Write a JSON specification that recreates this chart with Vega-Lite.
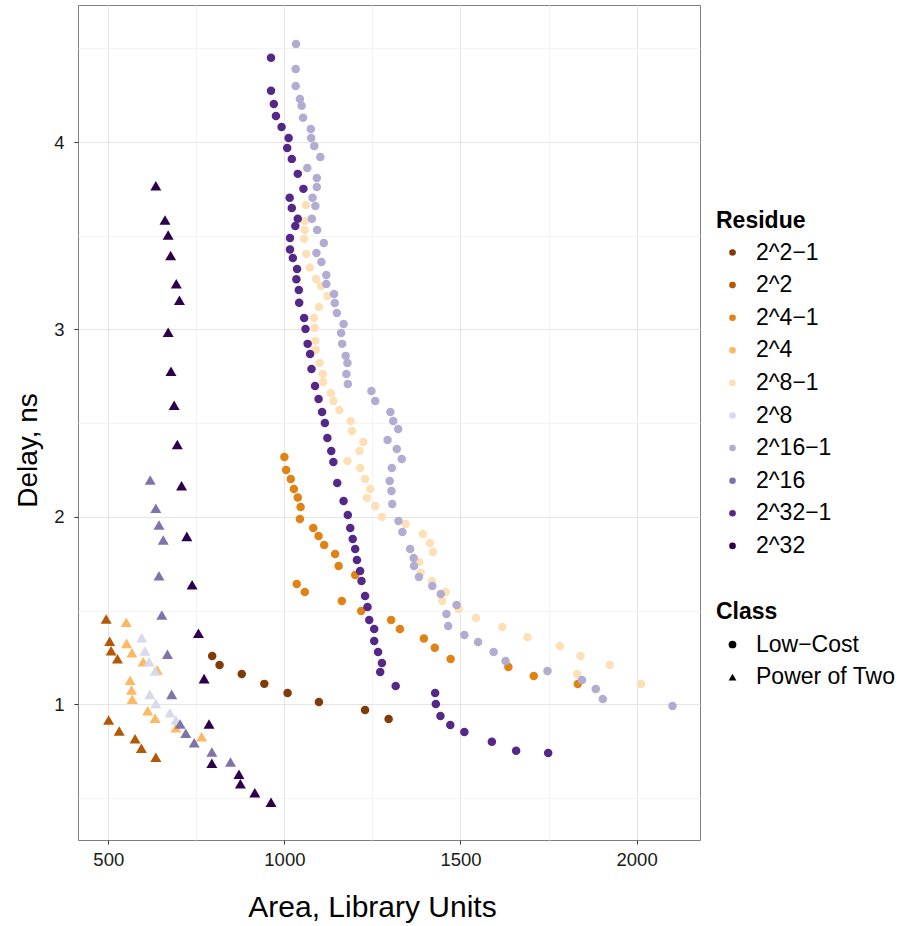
{
"$schema": "https://vega.github.io/schema/vega-lite/v6.json",
"width": 622, "height": 835,
"autosize": {"type": "none"},
"padding": {"left": 78, "top": 5, "right": 209, "bottom": 86},
"background": "white",
"datasets": {
"pts": [
{"Area":795,"Delay":1.258,"Residue":"2^2−1","Class":"Low−Cost"},
{"Area":816,"Delay":1.210,"Residue":"2^2−1","Class":"Low−Cost"},
{"Area":879,"Delay":1.162,"Residue":"2^2−1","Class":"Low−Cost"},
{"Area":943,"Delay":1.109,"Residue":"2^2−1","Class":"Low−Cost"},
{"Area":1009,"Delay":1.060,"Residue":"2^2−1","Class":"Low−Cost"},
{"Area":1098,"Delay":1.012,"Residue":"2^2−1","Class":"Low−Cost"},
{"Area":1229,"Delay":0.970,"Residue":"2^2−1","Class":"Low−Cost"},
{"Area":1296,"Delay":0.922,"Residue":"2^2−1","Class":"Low−Cost"},
{"Area":494,"Delay":1.455,"Residue":"2^2","Class":"Power of Two"},
{"Area":504,"Delay":1.336,"Residue":"2^2","Class":"Power of Two"},
{"Area":508,"Delay":1.286,"Residue":"2^2","Class":"Power of Two"},
{"Area":526,"Delay":1.243,"Residue":"2^2","Class":"Power of Two"},
{"Area":501,"Delay":0.916,"Residue":"2^2","Class":"Power of Two"},
{"Area":531,"Delay":0.858,"Residue":"2^2","Class":"Power of Two"},
{"Area":576,"Delay":0.816,"Residue":"2^2","Class":"Power of Two"},
{"Area":594,"Delay":0.765,"Residue":"2^2","Class":"Power of Two"},
{"Area":635,"Delay":0.717,"Residue":"2^2","Class":"Power of Two"},
{"Area":1000,"Delay":2.320,"Residue":"2^4−1","Class":"Low−Cost"},
{"Area":1005,"Delay":2.250,"Residue":"2^4−1","Class":"Low−Cost"},
{"Area":1018,"Delay":2.202,"Residue":"2^4−1","Class":"Low−Cost"},
{"Area":1027,"Delay":2.149,"Residue":"2^4−1","Class":"Low−Cost"},
{"Area":1038,"Delay":2.103,"Residue":"2^4−1","Class":"Low−Cost"},
{"Area":1046,"Delay":2.053,"Residue":"2^4−1","Class":"Low−Cost"},
{"Area":1044,"Delay":1.989,"Residue":"2^4−1","Class":"Low−Cost"},
{"Area":1082,"Delay":1.941,"Residue":"2^4−1","Class":"Low−Cost"},
{"Area":1097,"Delay":1.898,"Residue":"2^4−1","Class":"Low−Cost"},
{"Area":1113,"Delay":1.850,"Residue":"2^4−1","Class":"Low−Cost"},
{"Area":1144,"Delay":1.802,"Residue":"2^4−1","Class":"Low−Cost"},
{"Area":1154,"Delay":1.738,"Residue":"2^4−1","Class":"Low−Cost"},
{"Area":1201,"Delay":1.690,"Residue":"2^4−1","Class":"Low−Cost"},
{"Area":1035,"Delay":1.642,"Residue":"2^4−1","Class":"Low−Cost"},
{"Area":1058,"Delay":1.599,"Residue":"2^4−1","Class":"Low−Cost"},
{"Area":1163,"Delay":1.551,"Residue":"2^4−1","Class":"Low−Cost"},
{"Area":1218,"Delay":1.498,"Residue":"2^4−1","Class":"Low−Cost"},
{"Area":1303,"Delay":1.450,"Residue":"2^4−1","Class":"Low−Cost"},
{"Area":1328,"Delay":1.402,"Residue":"2^4−1","Class":"Low−Cost"},
{"Area":1396,"Delay":1.351,"Residue":"2^4−1","Class":"Low−Cost"},
{"Area":1427,"Delay":1.302,"Residue":"2^4−1","Class":"Low−Cost"},
{"Area":1472,"Delay":1.242,"Residue":"2^4−1","Class":"Low−Cost"},
{"Area":1636,"Delay":1.199,"Residue":"2^4−1","Class":"Low−Cost"},
{"Area":1708,"Delay":1.151,"Residue":"2^4−1","Class":"Low−Cost"},
{"Area":1833,"Delay":1.108,"Residue":"2^4−1","Class":"Low−Cost"},
{"Area":551,"Delay":1.438,"Residue":"2^4","Class":"Power of Two"},
{"Area":552,"Delay":1.325,"Residue":"2^4","Class":"Power of Two"},
{"Area":567,"Delay":1.275,"Residue":"2^4","Class":"Power of Two"},
{"Area":599,"Delay":1.227,"Residue":"2^4","Class":"Power of Two"},
{"Area":639,"Delay":1.183,"Residue":"2^4","Class":"Power of Two"},
{"Area":562,"Delay":1.128,"Residue":"2^4","Class":"Power of Two"},
{"Area":566,"Delay":1.076,"Residue":"2^4","Class":"Power of Two"},
{"Area":568,"Delay":1.027,"Residue":"2^4","Class":"Power of Two"},
{"Area":612,"Delay":0.966,"Residue":"2^4","Class":"Power of Two"},
{"Area":633,"Delay":0.925,"Residue":"2^4","Class":"Power of Two"},
{"Area":692,"Delay":0.875,"Residue":"2^4","Class":"Power of Two"},
{"Area":765,"Delay":0.827,"Residue":"2^4","Class":"Power of Two"},
{"Area":1061,"Delay":3.664,"Residue":"2^8−1","Class":"Low−Cost"},
{"Area":1058,"Delay":3.579,"Residue":"2^8−1","Class":"Low−Cost"},
{"Area":1058,"Delay":3.531,"Residue":"2^8−1","Class":"Low−Cost"},
{"Area":1056,"Delay":3.483,"Residue":"2^8−1","Class":"Low−Cost"},
{"Area":1062,"Delay":3.403,"Residue":"2^8−1","Class":"Low−Cost"},
{"Area":1072,"Delay":3.331,"Residue":"2^8−1","Class":"Low−Cost"},
{"Area":1090,"Delay":3.269,"Residue":"2^8−1","Class":"Low−Cost"},
{"Area":1104,"Delay":3.232,"Residue":"2^8−1","Class":"Low−Cost"},
{"Area":1122,"Delay":3.179,"Residue":"2^8−1","Class":"Low−Cost"},
{"Area":1098,"Delay":3.120,"Residue":"2^8−1","Class":"Low−Cost"},
{"Area":1084,"Delay":3.061,"Residue":"2^8−1","Class":"Low−Cost"},
{"Area":1086,"Delay":3.008,"Residue":"2^8−1","Class":"Low−Cost"},
{"Area":1088,"Delay":2.939,"Residue":"2^8−1","Class":"Low−Cost"},
{"Area":1089,"Delay":2.891,"Residue":"2^8−1","Class":"Low−Cost"},
{"Area":1100,"Delay":2.821,"Residue":"2^8−1","Class":"Low−Cost"},
{"Area":1109,"Delay":2.762,"Residue":"2^8−1","Class":"Low−Cost"},
{"Area":1110,"Delay":2.720,"Residue":"2^8−1","Class":"Low−Cost"},
{"Area":1132,"Delay":2.661,"Residue":"2^8−1","Class":"Low−Cost"},
{"Area":1139,"Delay":2.618,"Residue":"2^8−1","Class":"Low−Cost"},
{"Area":1156,"Delay":2.570,"Residue":"2^8−1","Class":"Low−Cost"},
{"Area":1188,"Delay":2.512,"Residue":"2^8−1","Class":"Low−Cost"},
{"Area":1192,"Delay":2.458,"Residue":"2^8−1","Class":"Low−Cost"},
{"Area":1224,"Delay":2.400,"Residue":"2^8−1","Class":"Low−Cost"},
{"Area":1213,"Delay":2.352,"Residue":"2^8−1","Class":"Low−Cost"},
{"Area":1179,"Delay":2.298,"Residue":"2^8−1","Class":"Low−Cost"},
{"Area":1215,"Delay":2.261,"Residue":"2^8−1","Class":"Low−Cost"},
{"Area":1229,"Delay":2.202,"Residue":"2^8−1","Class":"Low−Cost"},
{"Area":1244,"Delay":2.149,"Residue":"2^8−1","Class":"Low−Cost"},
{"Area":1234,"Delay":2.101,"Residue":"2^8−1","Class":"Low−Cost"},
{"Area":1258,"Delay":2.058,"Residue":"2^8−1","Class":"Low−Cost"},
{"Area":1277,"Delay":1.999,"Residue":"2^8−1","Class":"Low−Cost"},
{"Area":1344,"Delay":1.962,"Residue":"2^8−1","Class":"Low−Cost"},
{"Area":1393,"Delay":1.909,"Residue":"2^8−1","Class":"Low−Cost"},
{"Area":1413,"Delay":1.861,"Residue":"2^8−1","Class":"Low−Cost"},
{"Area":1422,"Delay":1.813,"Residue":"2^8−1","Class":"Low−Cost"},
{"Area":1383,"Delay":1.759,"Residue":"2^8−1","Class":"Low−Cost"},
{"Area":1387,"Delay":1.702,"Residue":"2^8−1","Class":"Low−Cost"},
{"Area":1419,"Delay":1.658,"Residue":"2^8−1","Class":"Low−Cost"},
{"Area":1458,"Delay":1.599,"Residue":"2^8−1","Class":"Low−Cost"},
{"Area":1448,"Delay":1.551,"Residue":"2^8−1","Class":"Low−Cost"},
{"Area":1495,"Delay":1.509,"Residue":"2^8−1","Class":"Low−Cost"},
{"Area":1544,"Delay":1.460,"Residue":"2^8−1","Class":"Low−Cost"},
{"Area":1619,"Delay":1.412,"Residue":"2^8−1","Class":"Low−Cost"},
{"Area":1690,"Delay":1.359,"Residue":"2^8−1","Class":"Low−Cost"},
{"Area":1782,"Delay":1.311,"Residue":"2^8−1","Class":"Low−Cost"},
{"Area":1841,"Delay":1.258,"Residue":"2^8−1","Class":"Low−Cost"},
{"Area":1924,"Delay":1.210,"Residue":"2^8−1","Class":"Low−Cost"},
{"Area":1831,"Delay":1.162,"Residue":"2^8−1","Class":"Low−Cost"},
{"Area":2013,"Delay":1.108,"Residue":"2^8−1","Class":"Low−Cost"},
{"Area":595,"Delay":1.355,"Residue":"2^8","Class":"Power of Two"},
{"Area":604,"Delay":1.284,"Residue":"2^8","Class":"Power of Two"},
{"Area":616,"Delay":1.227,"Residue":"2^8","Class":"Power of Two"},
{"Area":633,"Delay":1.178,"Residue":"2^8","Class":"Power of Two"},
{"Area":618,"Delay":1.053,"Residue":"2^8","Class":"Power of Two"},
{"Area":635,"Delay":1.005,"Residue":"2^8","Class":"Power of Two"},
{"Area":675,"Delay":0.955,"Residue":"2^8","Class":"Power of Two"},
{"Area":692,"Delay":0.916,"Residue":"2^8","Class":"Power of Two"},
{"Area":1033,"Delay":4.523,"Residue":"2^16−1","Class":"Low−Cost"},
{"Area":1032,"Delay":4.390,"Residue":"2^16−1","Class":"Low−Cost"},
{"Area":1032,"Delay":4.299,"Residue":"2^16−1","Class":"Low−Cost"},
{"Area":1044,"Delay":4.230,"Residue":"2^16−1","Class":"Low−Cost"},
{"Area":1049,"Delay":4.193,"Residue":"2^16−1","Class":"Low−Cost"},
{"Area":1053,"Delay":4.129,"Residue":"2^16−1","Class":"Low−Cost"},
{"Area":1075,"Delay":4.070,"Residue":"2^16−1","Class":"Low−Cost"},
{"Area":1076,"Delay":4.022,"Residue":"2^16−1","Class":"Low−Cost"},
{"Area":1085,"Delay":3.979,"Residue":"2^16−1","Class":"Low−Cost"},
{"Area":1102,"Delay":3.920,"Residue":"2^16−1","Class":"Low−Cost"},
{"Area":1065,"Delay":3.862,"Residue":"2^16−1","Class":"Low−Cost"},
{"Area":1092,"Delay":3.808,"Residue":"2^16−1","Class":"Low−Cost"},
{"Area":1092,"Delay":3.760,"Residue":"2^16−1","Class":"Low−Cost"},
{"Area":1080,"Delay":3.702,"Residue":"2^16−1","Class":"Low−Cost"},
{"Area":1088,"Delay":3.659,"Residue":"2^16−1","Class":"Low−Cost"},
{"Area":1078,"Delay":3.590,"Residue":"2^16−1","Class":"Low−Cost"},
{"Area":1093,"Delay":3.531,"Residue":"2^16−1","Class":"Low−Cost"},
{"Area":1112,"Delay":3.461,"Residue":"2^16−1","Class":"Low−Cost"},
{"Area":1091,"Delay":3.408,"Residue":"2^16−1","Class":"Low−Cost"},
{"Area":1105,"Delay":3.360,"Residue":"2^16−1","Class":"Low−Cost"},
{"Area":1119,"Delay":3.291,"Residue":"2^16−1","Class":"Low−Cost"},
{"Area":1119,"Delay":3.243,"Residue":"2^16−1","Class":"Low−Cost"},
{"Area":1141,"Delay":3.189,"Residue":"2^16−1","Class":"Low−Cost"},
{"Area":1143,"Delay":3.141,"Residue":"2^16−1","Class":"Low−Cost"},
{"Area":1149,"Delay":3.088,"Residue":"2^16−1","Class":"Low−Cost"},
{"Area":1168,"Delay":3.029,"Residue":"2^16−1","Class":"Low−Cost"},
{"Area":1161,"Delay":2.981,"Residue":"2^16−1","Class":"Low−Cost"},
{"Area":1164,"Delay":2.923,"Residue":"2^16−1","Class":"Low−Cost"},
{"Area":1174,"Delay":2.859,"Residue":"2^16−1","Class":"Low−Cost"},
{"Area":1179,"Delay":2.821,"Residue":"2^16−1","Class":"Low−Cost"},
{"Area":1176,"Delay":2.762,"Residue":"2^16−1","Class":"Low−Cost"},
{"Area":1180,"Delay":2.709,"Residue":"2^16−1","Class":"Low−Cost"},
{"Area":1247,"Delay":2.672,"Residue":"2^16−1","Class":"Low−Cost"},
{"Area":1258,"Delay":2.618,"Residue":"2^16−1","Class":"Low−Cost"},
{"Area":1301,"Delay":2.560,"Residue":"2^16−1","Class":"Low−Cost"},
{"Area":1309,"Delay":2.512,"Residue":"2^16−1","Class":"Low−Cost"},
{"Area":1323,"Delay":2.469,"Residue":"2^16−1","Class":"Low−Cost"},
{"Area":1293,"Delay":2.410,"Residue":"2^16−1","Class":"Low−Cost"},
{"Area":1319,"Delay":2.362,"Residue":"2^16−1","Class":"Low−Cost"},
{"Area":1333,"Delay":2.309,"Residue":"2^16−1","Class":"Low−Cost"},
{"Area":1305,"Delay":2.261,"Residue":"2^16−1","Class":"Low−Cost"},
{"Area":1299,"Delay":2.192,"Residue":"2^16−1","Class":"Low−Cost"},
{"Area":1304,"Delay":2.138,"Residue":"2^16−1","Class":"Low−Cost"},
{"Area":1306,"Delay":2.069,"Residue":"2^16−1","Class":"Low−Cost"},
{"Area":1324,"Delay":1.978,"Residue":"2^16−1","Class":"Low−Cost"},
{"Area":1335,"Delay":1.919,"Residue":"2^16−1","Class":"Low−Cost"},
{"Area":1357,"Delay":1.829,"Residue":"2^16−1","Class":"Low−Cost"},
{"Area":1367,"Delay":1.781,"Residue":"2^16−1","Class":"Low−Cost"},
{"Area":1368,"Delay":1.738,"Residue":"2^16−1","Class":"Low−Cost"},
{"Area":1382,"Delay":1.679,"Residue":"2^16−1","Class":"Low−Cost"},
{"Area":1420,"Delay":1.631,"Residue":"2^16−1","Class":"Low−Cost"},
{"Area":1444,"Delay":1.589,"Residue":"2^16−1","Class":"Low−Cost"},
{"Area":1489,"Delay":1.530,"Residue":"2^16−1","Class":"Low−Cost"},
{"Area":1460,"Delay":1.482,"Residue":"2^16−1","Class":"Low−Cost"},
{"Area":1465,"Delay":1.418,"Residue":"2^16−1","Class":"Low−Cost"},
{"Area":1511,"Delay":1.370,"Residue":"2^16−1","Class":"Low−Cost"},
{"Area":1550,"Delay":1.332,"Residue":"2^16−1","Class":"Low−Cost"},
{"Area":1594,"Delay":1.279,"Residue":"2^16−1","Class":"Low−Cost"},
{"Area":1628,"Delay":1.231,"Residue":"2^16−1","Class":"Low−Cost"},
{"Area":1747,"Delay":1.178,"Residue":"2^16−1","Class":"Low−Cost"},
{"Area":1845,"Delay":1.130,"Residue":"2^16−1","Class":"Low−Cost"},
{"Area":1884,"Delay":1.082,"Residue":"2^16−1","Class":"Low−Cost"},
{"Area":1904,"Delay":1.028,"Residue":"2^16−1","Class":"Low−Cost"},
{"Area":2102,"Delay":0.991,"Residue":"2^16−1","Class":"Low−Cost"},
{"Area":619,"Delay":2.197,"Residue":"2^16","Class":"Power of Two"},
{"Area":635,"Delay":2.046,"Residue":"2^16","Class":"Power of Two"},
{"Area":644,"Delay":1.957,"Residue":"2^16","Class":"Power of Two"},
{"Area":656,"Delay":1.877,"Residue":"2^16","Class":"Power of Two"},
{"Area":644,"Delay":1.686,"Residue":"2^16","Class":"Power of Two"},
{"Area":652,"Delay":1.477,"Residue":"2^16","Class":"Power of Two"},
{"Area":668,"Delay":1.267,"Residue":"2^16","Class":"Power of Two"},
{"Area":680,"Delay":1.053,"Residue":"2^16","Class":"Power of Two"},
{"Area":704,"Delay":0.895,"Residue":"2^16","Class":"Power of Two"},
{"Area":720,"Delay":0.845,"Residue":"2^16","Class":"Power of Two"},
{"Area":744,"Delay":0.795,"Residue":"2^16","Class":"Power of Two"},
{"Area":794,"Delay":0.745,"Residue":"2^16","Class":"Power of Two"},
{"Area":847,"Delay":0.692,"Residue":"2^16","Class":"Power of Two"},
{"Area":962,"Delay":4.449,"Residue":"2^32−1","Class":"Low−Cost"},
{"Area":962,"Delay":4.273,"Residue":"2^32−1","Class":"Low−Cost"},
{"Area":970,"Delay":4.203,"Residue":"2^32−1","Class":"Low−Cost"},
{"Area":976,"Delay":4.139,"Residue":"2^32−1","Class":"Low−Cost"},
{"Area":992,"Delay":4.080,"Residue":"2^32−1","Class":"Low−Cost"},
{"Area":1012,"Delay":4.022,"Residue":"2^32−1","Class":"Low−Cost"},
{"Area":1008,"Delay":3.968,"Residue":"2^32−1","Class":"Low−Cost"},
{"Area":1021,"Delay":3.910,"Residue":"2^32−1","Class":"Low−Cost"},
{"Area":1038,"Delay":3.830,"Residue":"2^32−1","Class":"Low−Cost"},
{"Area":1054,"Delay":3.750,"Residue":"2^32−1","Class":"Low−Cost"},
{"Area":1015,"Delay":3.702,"Residue":"2^32−1","Class":"Low−Cost"},
{"Area":1021,"Delay":3.648,"Residue":"2^32−1","Class":"Low−Cost"},
{"Area":1038,"Delay":3.590,"Residue":"2^32−1","Class":"Low−Cost"},
{"Area":1031,"Delay":3.552,"Residue":"2^32−1","Class":"Low−Cost"},
{"Area":1016,"Delay":3.488,"Residue":"2^32−1","Class":"Low−Cost"},
{"Area":1016,"Delay":3.427,"Residue":"2^32−1","Class":"Low−Cost"},
{"Area":1024,"Delay":3.381,"Residue":"2^32−1","Class":"Low−Cost"},
{"Area":1036,"Delay":3.323,"Residue":"2^32−1","Class":"Low−Cost"},
{"Area":1034,"Delay":3.268,"Residue":"2^32−1","Class":"Low−Cost"},
{"Area":1041,"Delay":3.211,"Residue":"2^32−1","Class":"Low−Cost"},
{"Area":1042,"Delay":3.143,"Residue":"2^32−1","Class":"Low−Cost"},
{"Area":1056,"Delay":3.061,"Residue":"2^32−1","Class":"Low−Cost"},
{"Area":1060,"Delay":3.003,"Residue":"2^32−1","Class":"Low−Cost"},
{"Area":1066,"Delay":2.923,"Residue":"2^32−1","Class":"Low−Cost"},
{"Area":1073,"Delay":2.869,"Residue":"2^32−1","Class":"Low−Cost"},
{"Area":1077,"Delay":2.789,"Residue":"2^32−1","Class":"Low−Cost"},
{"Area":1087,"Delay":2.698,"Residue":"2^32−1","Class":"Low−Cost"},
{"Area":1097,"Delay":2.629,"Residue":"2^32−1","Class":"Low−Cost"},
{"Area":1107,"Delay":2.560,"Residue":"2^32−1","Class":"Low−Cost"},
{"Area":1115,"Delay":2.501,"Residue":"2^32−1","Class":"Low−Cost"},
{"Area":1122,"Delay":2.421,"Residue":"2^32−1","Class":"Low−Cost"},
{"Area":1133,"Delay":2.352,"Residue":"2^32−1","Class":"Low−Cost"},
{"Area":1139,"Delay":2.293,"Residue":"2^32−1","Class":"Low−Cost"},
{"Area":1150,"Delay":2.181,"Residue":"2^32−1","Class":"Low−Cost"},
{"Area":1168,"Delay":2.085,"Residue":"2^32−1","Class":"Low−Cost"},
{"Area":1180,"Delay":2.010,"Residue":"2^32−1","Class":"Low−Cost"},
{"Area":1187,"Delay":1.941,"Residue":"2^32−1","Class":"Low−Cost"},
{"Area":1194,"Delay":1.882,"Residue":"2^32−1","Class":"Low−Cost"},
{"Area":1201,"Delay":1.829,"Residue":"2^32−1","Class":"Low−Cost"},
{"Area":1206,"Delay":1.770,"Residue":"2^32−1","Class":"Low−Cost"},
{"Area":1215,"Delay":1.711,"Residue":"2^32−1","Class":"Low−Cost"},
{"Area":1219,"Delay":1.658,"Residue":"2^32−1","Class":"Low−Cost"},
{"Area":1229,"Delay":1.578,"Residue":"2^32−1","Class":"Low−Cost"},
{"Area":1236,"Delay":1.519,"Residue":"2^32−1","Class":"Low−Cost"},
{"Area":1241,"Delay":1.450,"Residue":"2^32−1","Class":"Low−Cost"},
{"Area":1255,"Delay":1.402,"Residue":"2^32−1","Class":"Low−Cost"},
{"Area":1255,"Delay":1.338,"Residue":"2^32−1","Class":"Low−Cost"},
{"Area":1266,"Delay":1.279,"Residue":"2^32−1","Class":"Low−Cost"},
{"Area":1277,"Delay":1.220,"Residue":"2^32−1","Class":"Low−Cost"},
{"Area":1272,"Delay":1.172,"Residue":"2^32−1","Class":"Low−Cost"},
{"Area":1316,"Delay":1.098,"Residue":"2^32−1","Class":"Low−Cost"},
{"Area":1428,"Delay":1.060,"Residue":"2^32−1","Class":"Low−Cost"},
{"Area":1430,"Delay":1.002,"Residue":"2^32−1","Class":"Low−Cost"},
{"Area":1443,"Delay":0.938,"Residue":"2^32−1","Class":"Low−Cost"},
{"Area":1471,"Delay":0.890,"Residue":"2^32−1","Class":"Low−Cost"},
{"Area":1511,"Delay":0.852,"Residue":"2^32−1","Class":"Low−Cost"},
{"Area":1589,"Delay":0.800,"Residue":"2^32−1","Class":"Low−Cost"},
{"Area":1658,"Delay":0.752,"Residue":"2^32−1","Class":"Low−Cost"},
{"Area":1749,"Delay":0.740,"Residue":"2^32−1","Class":"Low−Cost"},
{"Area":635,"Delay":3.767,"Residue":"2^32","Class":"Power of Two"},
{"Area":661,"Delay":3.584,"Residue":"2^32","Class":"Power of Two"},
{"Area":670,"Delay":3.504,"Residue":"2^32","Class":"Power of Two"},
{"Area":677,"Delay":3.394,"Residue":"2^32","Class":"Power of Two"},
{"Area":693,"Delay":3.244,"Residue":"2^32","Class":"Power of Two"},
{"Area":702,"Delay":3.156,"Residue":"2^32","Class":"Power of Two"},
{"Area":670,"Delay":2.985,"Residue":"2^32","Class":"Power of Two"},
{"Area":678,"Delay":2.777,"Residue":"2^32","Class":"Power of Two"},
{"Area":687,"Delay":2.595,"Residue":"2^32","Class":"Power of Two"},
{"Area":696,"Delay":2.386,"Residue":"2^32","Class":"Power of Two"},
{"Area":708,"Delay":2.166,"Residue":"2^32","Class":"Power of Two"},
{"Area":723,"Delay":1.896,"Residue":"2^32","Class":"Power of Two"},
{"Area":738,"Delay":1.638,"Residue":"2^32","Class":"Power of Two"},
{"Area":756,"Delay":1.379,"Residue":"2^32","Class":"Power of Two"},
{"Area":772,"Delay":1.137,"Residue":"2^32","Class":"Power of Two"},
{"Area":786,"Delay":0.895,"Residue":"2^32","Class":"Power of Two"},
{"Area":794,"Delay":0.685,"Residue":"2^32","Class":"Power of Two"},
{"Area":871,"Delay":0.627,"Residue":"2^32","Class":"Power of Two"},
{"Area":875,"Delay":0.576,"Residue":"2^32","Class":"Power of Two"},
{"Area":916,"Delay":0.528,"Residue":"2^32","Class":"Power of Two"},
{"Area":962,"Delay":0.478,"Residue":"2^32","Class":"Power of Two"}
]
},
"data": {"name": "pts"},
"encoding": {
"x": {"field": "Area", "type": "quantitative", "scale": {"domain": [414, 2180], "nice": false, "zero": false},
  "axis": {"title": "Area, Library Units", "values": [500, 750, 1000, 1250, 1500, 1750, 2000], "format": "d",
    "labelExpr": "datum.value % 500 === 0 ? datum.label : ''",
    "gridColor": {"condition": {"test": "datum.value % 500 === 0", "value": "#e5e5e5"}, "value": "#f4f4f4"},
    "tickOpacity": {"condition": {"test": "datum.value % 500 === 0", "value": 1}, "value": 0},
    "labelPadding": 6, "titleFontSize": 30, "titleX": 294, "titleY": 67, "titleBaseline": "middle", "titleAlign": "center"}},
"y": {"field": "Delay", "type": "quantitative", "scale": {"domain": [0.276, 4.731], "nice": false, "zero": false},
  "axis": {"title": "Delay, ns", "values": [0.5, 1, 1.5, 2, 2.5, 3, 3.5, 4, 4.5],
    "labelExpr": "datum.value % 1 === 0 ? format(datum.value, 'd') : ''",
    "gridColor": {"condition": {"test": "datum.value % 1 === 0", "value": "#e5e5e5"}, "value": "#f4f4f4"},
    "tickOpacity": {"condition": {"test": "datum.value % 1 === 0", "value": 1}, "value": 0},
    "labelPadding": 10, "titleX": -50, "titleY": 445, "titleBaseline": "middle", "titleAlign": "center", "titleAngle": -90}},
"color": {"field": "Residue", "type": "nominal",
  "scale": {"domain": ["2^2−1", "2^2", "2^4−1", "2^4", "2^8−1", "2^8", "2^16−1", "2^16", "2^32−1", "2^32"],
    "range": ["#7f3b08", "#b35806", "#e08214", "#fdb863", "#fee0b6", "#d8daeb", "#b2abd2", "#8073ac", "#542788", "#2d004b"]},
  "legend": {"title": "Residue", "orient": "none", "legendX": 638, "legendY": 205, "symbolType": "circle", "symbolSize": 44,
    "rowPadding": 8.6, "symbolOffset": 5, "labelOffset": 12, "padding": 0, "titlePadding": 8}},
"shape": {"field": "Class", "type": "nominal",
  "scale": {"domain": ["Low−Cost", "Power of Two"], "range": ["circle", "triangle-up"]},
  "legend": {"title": "Class", "orient": "none", "legendX": 638, "legendY": 596, "symbolSize": 60,
    "symbolFillColor": "black", "symbolStrokeWidth": 0, "rowPadding": 8.6, "symbolOffset": 5, "labelOffset": 12, "padding": 0, "titlePadding": 9}}
},
"layer": [
{"transform": [{"filter": "datum.Class === 'Low−Cost'"}], "mark": {"type": "point", "filled": true, "opacity": 1, "strokeWidth": 0, "size": 72}},
{"transform": [{"filter": "datum.Class === 'Power of Two'"}], "mark": {"type": "point", "filled": true, "opacity": 1, "strokeWidth": 0, "size": 121}}
],
"config": {
"font": "Liberation Sans",
"view": {"stroke": "#7f7f7f", "strokeWidth": 1},
"axis": {"domain": false, "tickColor": "#333333", "tickSize": 4, "labelFontSize": 18.5, "labelColor": "#1a1a1a",
  "titleFontSize": 28, "titleFontWeight": "normal", "titleColor": "#000000", "gridWidth": 1},
"legend": {"titleFontSize": 23, "titleFontWeight": "bold", "titleColor": "#000000", "labelFontSize": 23, "labelColor": "#000000"}
}
}
